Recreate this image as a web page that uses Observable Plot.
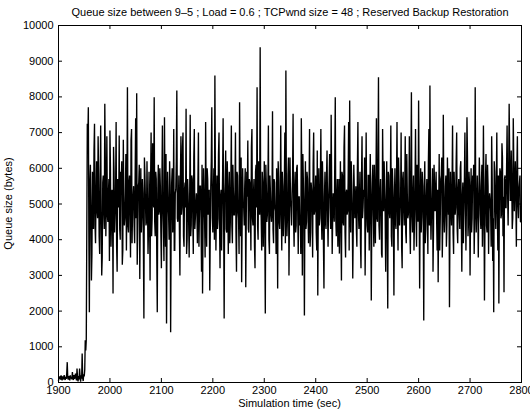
<!DOCTYPE html>
<html><head><meta charset="utf-8">
<script src="https://cdn.jsdelivr.net/npm/d3@7"></script>
<script src="https://cdn.jsdelivr.net/npm/@observablehq/plot@0.6"></script>
<style>body{margin:0;background:#fff}</style>
</head><body><div id="chart"></div>
<script>
const titleText = "Queue size between 9\u20135 ; Load = 0.6 ; TCPwnd size = 48 ; Reserved Backup Restoration";
const xLabel = "Simulation time (sec)";
const yLabel = "Queue size (bytes)";
const xTicks = [1900,2000,2100,2200,2300,2400,2500,2600,2700,2800];
const yTicks = [0,1000,2000,3000,4000,5000,6000,7000,8000,9000,10000];

// before restoration: one sample per second, 1900..1954
const preStart = 1900, preStep = 1;
const preValues = [50,150,100,180,80,200,120,60,170,110,90,210,130,70,160,100,250,570,120,80,
180,140,60,200,110,150,90,290,130,70,210,100,160,250,120,60,390,140,30,180,
90,390,150,20,200,110,810,130,40,230,170,350,1180,900,1200];

// after restoration, even seconds 1956..2798
const evenStart = 1956, evenStep = 2;
const evenValues = [
7250,7710,1970,6100,2860,5900,4300,7250,3900,6200,4600,5800,3600,7200,3000,5600,4800,7810,4100,6900,
4500,5700,7060,3800,5400,2490,5900,4700,7300,3100,5200,6920,4000,5600,3300,6800,4400,5300,3700,8270,
4200,5800,3500,7100,4900,5500,3900,7400,8100,4300,5600,2900,6000,4700,5300,1790,5800,4400,6200,3600,
5900,2860,7000,4600,5200,7990,4100,5700,1970,6100,4800,5500,3200,7200,4300,7430,3800,1650,5900,4700,
6200,1410,5600,4200,7100,3700,5400,8180,4500,5800,3000,6900,4900,7000,3800,5600,7670,4000,5200,3500,
7500,4400,5700,3600,7100,4600,5300,3900,7000,4800,5500,3100,2490,6000,4500,7300,3800,5700,4900,2580,
5500,7710,4200,6000,8600,3700,5800,4600,7000,3200,5400,4800,7400,1790,5600,4300,6200,3600,5900,4500,
7200,3900,5300,4700,7000,3100,5800,4600,7850,4100,2810,6000,4900,5500,2670,5900,6780,4200,5600,3700,
7100,4400,5700,3200,6100,8270,4000,5400,9390,4600,5900,3800,6200,1930,5500,4700,7200,3600,5300,4500,
7600,3900,5600,4800,6000,2630,5700,4300,7200,3700,5500,4600,7000,8740,4100,5800,3000,6300,4900,5300,
7530,3800,5900,4400,6100,3600,5200,4700,7400,3000,5600,1880,6200,4500,5700,3900,7100,4200,5400,3500,
7000,4800,5800,3700,2440,6000,4600,7100,4000,5500,2630,5900,4300,6500,3800,5600,4900,7500,3600,5300,
4500,7990,4100,5700,4700,3610,6200,2860,5800,4400,7200,3500,5400,4800,7300,7900,4200,5600,2910,6100,
4600,5500,3800,7300,4300,5900,3200,6900,4900,5200,3000,7000,4400,5800,3700,6400,2300,5600,4700,6100,
3900,7400,4500,8550,4000,5700,3600,7100,4800,5400,3100,6200,2070,5800,4600,7200,3800,5500,2440,6000,
4300,7300,3700,5600,4900,7000,3200,5900,4400,6900,3900,5300,4700,6900,3600,8130,4200,5800,4500,7100,
3800,5600,7900,2630,6000,4600,5500,1740,6200,4300,5700,3600,7100,8320,4000,5400,3100,6100,4800,5900,
3700,2810,6400,4500,5800,3500,7500,4200,5500,3800,6300,4700,2110,5900,4400,7200,3600,5300,4900,7000,
3900,5700,4300,6200,3100,5600,4800,7000,3700,7430,4100,5900,3000,6000,4600,5400,3600,8270,4200,5800,
3500,6300,4700,5500,3800,7200,2300,5700,4400,6100,3600,5300,4800,6900,3400,1970,5900,4300,7000,3700,
2210,6000,4600,6700,4100,2530,5800,4900,7200,4400,7810,5100,6500,4300,7400,4800,6200,3800,6900,4600,
5600,4500];

// after restoration, odd seconds 1957..2797
const oddStart = 1957, oddStep = 2;
const oddValues = [
6800,4200,5600,4900,3600,5200,6500,4400,5300,4800,6900,4100,5500,4600,3500,5800,4300,6200,5000,4700,
5300,3400,6000,4500,5100,6600,4200,5400,3800,5700,4900,4300,5900,6200,3700,5000,4600,6400,5200,4400,
5600,4700,6800,3900,5200,4400,5800,4600,3300,5500,6100,4800,4200,5700,3900,6300,5100,4500,5000,4300,
4800,5600,4100,6700,4900,4500,5900,3600,5300,4700,6000,4200,5600,4900,3400,5200,6400,4600,5100,4000,
5500,4400,6000,4800,3700,5300,6200,4600,5000,4300,5800,4700,6600,4100,5400,4900,3600,5700,4500,5200,
4100,5800,4700,6300,4300,5000,4800,5600,3800,5500,4600,6100,4400,5300,3500,5100,6000,4700,5400,4200,
6200,4600,5300,4000,5700,4900,4300,6400,4500,5200,3700,5800,4600,5100,6500,4200,5500,4800,3900,5600,
4400,6100,4700,5400,4200,5900,4800,3600,5300,6300,4500,5000,4400,6000,4700,5200,4300,5700,4900,6600,
4600,5300,3800,5900,4900,4400,6200,4700,5100,3700,5600,4800,4300,6100,4500,5400,4000,5800,4700,5000,
4300,5700,4900,3600,5500,6200,4500,5200,4800,5900,4100,5600,3900,5300,4600,6300,4700,5100,4400,5800,
4500,5400,4200,6000,4800,5200,4400,3600,5700,6400,4600,5000,4300,5900,4700,5300,3800,5600,4900,6100,
4700,5300,4200,6500,4900,4400,5600,4700,6200,3900,5200,4500,5800,4800,5100,6400,4300,5500,4600,4900,
6100,4600,5200,3800,5700,4900,4400,5900,4500,6600,4200,5300,4700,5600,3700,5100,6200,4800,4400,5400,
5000,4300,6000,4800,5200,3900,5700,4600,5400,6300,4500,5000,4200,5800,4900,5300,4600,6100,3800,5200,
5500,4600,6100,4400,5300,4900,3500,5600,6200,4700,5100,4300,5900,4800,5400,4100,6000,4600,5200,4500,
5600,4800,6300,4400,5100,3800,5700,4900,5300,4200,6400,4600,5000,4300,5800,4700,5200,3700,5500,4800,
6100,4500,5300,4900,4200,5900,4600,5500,3900,5200,4800,6200,4400,5100,4700,6000,4300,5600,4900,4600,
5400,4800,3700,5700,6300,4500,5100,4700,5800,4400,5300,6000,4600,4900,5500,4200,5900,4700,6200,4300,
5400,4800,6000,4500,5200,3900,5700,4900,5100,6300,4500,5500,4800,4200,5800,6100,4600,5300,4900,5000,
4900,5600,4300,6100,4800,5200,4500,6400,4200,5500,4900,5100,3800,5700,4600,6200,5000,5400,4800,5800,
5300,5900,4700,6300,5200,5700,4900,6000,5300,5800,6400,5100,5700,4600,6100,5500,5200,6000,5000,5400,
5800];

const series = [
  ...preValues.map((v, i) => ({t: preStart + i * preStep, q: v})),
  ...evenValues.map((v, i) => ({t: evenStart + i * evenStep, q: v})),
  ...oddValues.map((v, i) => ({t: oddStart + i * oddStep, q: v}))
].sort((a, b) => a.t - b.t);

const W = 530, H = 413, mL = 58, mR = 9, mT = 25, mB = 31;
const plotW = W - mL - mR, plotH = H - mT - mB, tk = 4;

const chart = Plot.plot({
  width: W, height: H,
  marginLeft: mL, marginRight: mR, marginTop: mT, marginBottom: mB,
  style: {fontFamily: "Arial, 'Liberation Sans', Helvetica, sans-serif", fontSize: "11px", color: "black", background: "white"},
  x: {domain: [1900, 2800]},
  y: {domain: [0, 10000]},
  marks: [
    Plot.lineY(series, {x: "t", y: "q", stroke: "black", strokeWidth: 1.35, strokeLinejoin: "miter", strokeMiterlimit: 2}),
    Plot.frame({stroke: "black", strokeWidth: 1}),
    Plot.ruleX(xTicks, {stroke: "black", insetTop: plotH - tk}),
    Plot.ruleX(xTicks, {stroke: "black", insetBottom: plotH - tk}),
    Plot.ruleY(yTicks, {stroke: "black", insetRight: plotW - tk}),
    Plot.ruleY(yTicks, {stroke: "black", insetLeft: plotW - tk}),
    Plot.axisX(xTicks, {tickSize: 0, tickPadding: 4, tickFormat: d => String(d), label: null}),
    Plot.axisY(yTicks, {tickSize: 0, tickPadding: 5, tickFormat: d => String(d), label: null}),
    Plot.text([titleText], {frameAnchor: "top", dy: -17, fontSize: 11})
  ]
});

const svg = d3.select(chart);
svg.append("text").attr("x", mL + plotW / 2).attr("y", H - 6)
  .attr("text-anchor", "middle").attr("font-size", 11).text(xLabel);
svg.append("text").attr("transform", `translate(12,${mT + plotH / 2}) rotate(-90)`)
  .attr("text-anchor", "middle").attr("font-size", 11).text(yLabel);

document.getElementById("chart").appendChild(chart);
</script>
</body></html>
